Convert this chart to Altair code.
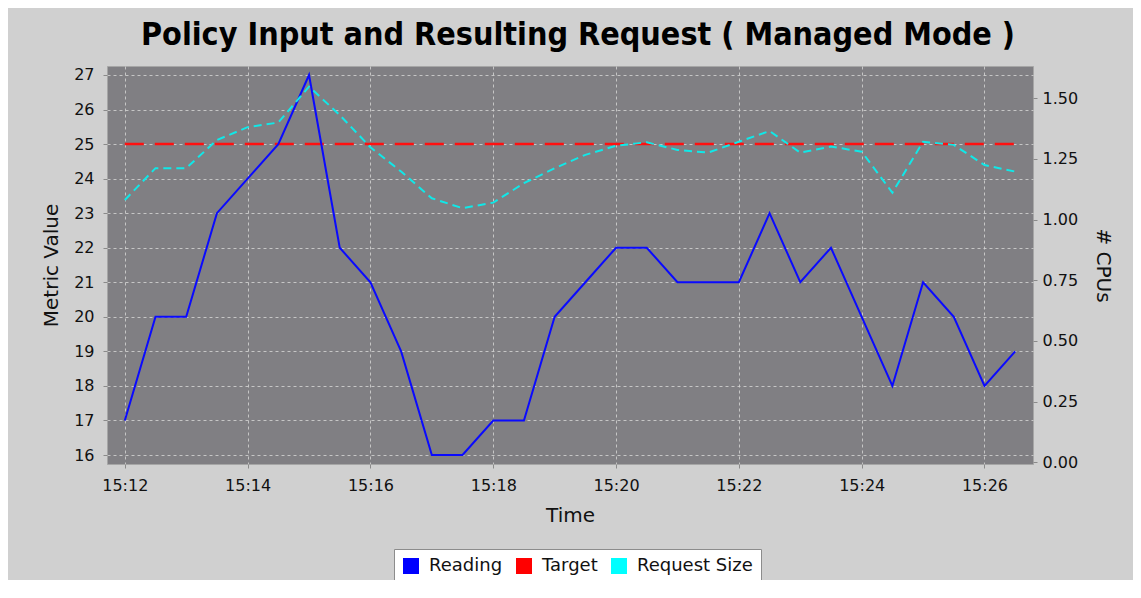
import altair as alt
import pandas as pd

# ---- data ----
times = ["15:12:00", "15:12:30", "15:13:00", "15:13:30", "15:14:00", "15:14:30",
         "15:15:00", "15:15:30", "15:16:00", "15:16:30", "15:17:00", "15:17:30",
         "15:18:00", "15:18:30", "15:19:00", "15:19:30", "15:20:00", "15:20:30",
         "15:21:00", "15:21:30", "15:22:00", "15:22:30", "15:23:00", "15:23:30",
         "15:24:00", "15:24:30", "15:25:00", "15:25:30", "15:26:00", "15:26:30"]
reading = [17, 20, 20, 23, 24, 25, 27, 22, 21, 19, 16, 16, 17, 17, 20,
           21, 22, 22, 21, 21, 21, 23, 21, 22, 20, 18, 21, 20, 18, 19]
target = [25, 25, 25, 25, 25, 25, 25, 25, 25, 25, 25, 25, 25, 25, 25,
          25, 25, 25, 25, 25, 25, 25, 25, 25, 25, 25, 25, 25, 25, 25]
request_size = [1.081, 1.212, 1.212, 1.328, 1.381, 1.400, 1.548, 1.431, 1.298, 1.198,
                1.088, 1.047, 1.070, 1.150, 1.212, 1.267, 1.304, 1.319, 1.287, 1.276,
                1.321, 1.365, 1.276, 1.301, 1.280, 1.111, 1.321, 1.308, 1.225, 1.198]
series_names = ["Reading", "Target", "Request Size"]
series_colors = ["#0000ff", "#ff0000", "#00ffff"]
x_ticks = ["15:12", "15:14", "15:16", "15:18", "15:20", "15:22", "15:24", "15:26"]
left_ticks = [16, 17, 18, 19, 20, 21, 22, 23, 24, 25, 26, 27]
right_ticks = [0.0, 0.25, 0.5, 0.75, 1.0, 1.25, 1.5]


def to_min(s):
    parts = [int(p) for p in s.split(":")]
    sec = parts[2] if len(parts) > 2 else 0
    return parts[0] * 60 + parts[1] + sec / 60.0


df = pd.DataFrame({
    "t": [to_min(s) for s in times],
    "reading": reading,
    "target": target,
    "req": request_size,
})
legend_df = pd.DataFrame({"series": series_names})
tick_vals = [to_min(s) for s in x_ticks]

FONT = "DejaVu Sans"
PLOT_BG = "#807f83"

x_enc = alt.X(
    "t:Q",
    scale=alt.Scale(domain=[911.71, 926.79], nice=False, zero=False),
    axis=alt.Axis(title="Time", values=tick_vals,
                  labelExpr="timeFormat(datetime(2024,0,1,0,datum.value,0), '%H:%M')",
                  grid=True, labelPadding=9, titlePadding=12, labelFlush=False),
)

left_scale = alt.Scale(domain=[15.74, 27.26], nice=False, zero=False)
left_axis = alt.Axis(title="Metric Value", values=left_ticks, grid=True,
                     labelPadding=9, titlePadding=12)

base = alt.Chart(df)

target_line = base.mark_line(color="#ff1010", strokeWidth=2.5, strokeDash=[19, 11]).encode(
    x=x_enc,
    y=alt.Y("target:Q", scale=left_scale, axis=left_axis),
)
reading_line = base.mark_line(color="#0a0aff", strokeWidth=2).encode(
    x=x_enc,
    y=alt.Y("reading:Q", scale=left_scale, axis=left_axis),
)
request_line = base.mark_line(color="#10e8e8", strokeWidth=2, strokeDash=[8, 5]).encode(
    x=x_enc,
    y=alt.Y("req:Q",
            scale=alt.Scale(domain=[-0.007, 1.633], nice=False, zero=False),
            axis=alt.Axis(orient="right", title="# CPUs", values=right_ticks,
                          format=".2f", grid=False, labelPadding=5, titlePadding=15)),
)

legend_layer = alt.Chart(legend_df).mark_square(size=0, opacity=1).encode(
    color=alt.Color(
        "series:N",
        scale=alt.Scale(domain=series_names, range=series_colors),
        legend=alt.Legend(
            title=None, orient="none", legendX=287, legendY=483,
            direction="horizontal", symbolType="square", symbolSize=256,
            symbolStrokeWidth=0, symbolOpacity=1, labelFontSize=18, labelFont=FONT,
            labelColor="#111111", columnPadding=12, labelOffset=9,
            fillColor="white", strokeColor="#8c8c8c", padding=8,
        ),
    )
)

left = alt.layer(target_line, reading_line)
chart = alt.layer(left, request_line).resolve_scale(y="independent")
chart = alt.layer(chart, legend_layer).properties(
    width=926,
    height=398,
    background="#d0d0d0",
    view=alt.ViewBackground(fill=PLOT_BG, stroke="#a6a6a6", strokeWidth=1),
    autosize=alt.AutoSizeParams(type="none"),
    padding={"left": 99, "top": 58, "right": 100, "bottom": 116},
    title=alt.Title(
        "Policy Input and Resulting Request ( Managed Mode )",
        font="Liberation Sans Narrow, DejaVu Sans Condensed, Liberation Sans",
        fontSize=32, fontWeight="bold", color="black",
        baseline="alphabetic", offset=21, dy=32, dx=8, anchor="middle",
    ),
).configure_axis(
    labelFont=FONT, labelFontSize=16, labelColor="#111111",
    titleFont=FONT, titleFontSize=20, titleFontWeight="normal", titleColor="#111111",
    tickColor="#8a8a8a", tickSize=4, domain=False,
    gridColor="#d2d2d2", gridDash=[3, 3], gridWidth=1, gridOpacity=0.85,
).configure_view(
    fill=PLOT_BG, stroke="#a6a6a6", strokeWidth=1,
)

chart.save("out.html", embed_options={"renderer": "svg", "actions": False})
